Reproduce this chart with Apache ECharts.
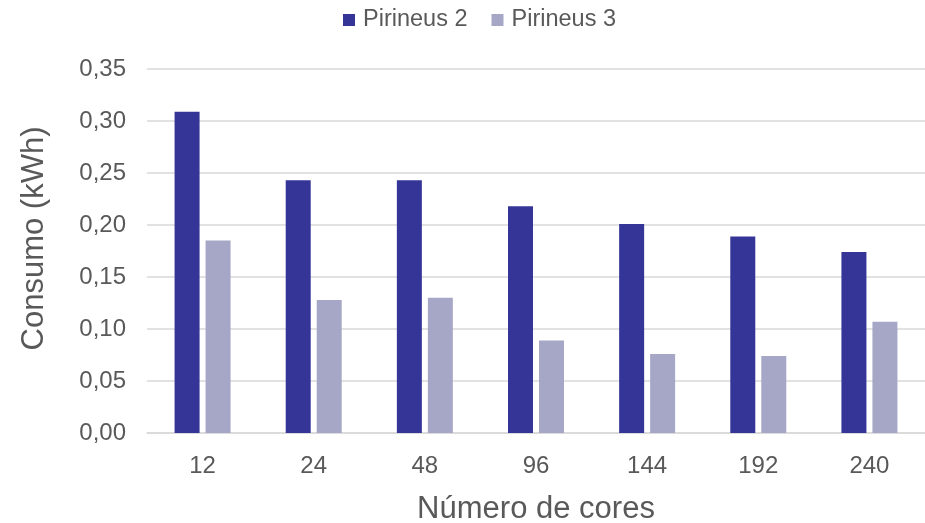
<!DOCTYPE html>
<html>
<head>
<meta charset="utf-8">
<script src="https://cdn.jsdelivr.net/npm/echarts@6/dist/echarts.min.js"></script>
<style>
  html, body { margin: 0; padding: 0; background: #ffffff; }
  #chart { width: 925px; height: 523px; }
</style>
</head>
<body>
<div id="chart"></div>
<script>
// Energy consumption per run, by number of cores
const categories = ['12', '24', '48', '96', '144', '192', '240'];
const pirineus2 = [0.309, 0.243, 0.243, 0.218, 0.201, 0.189, 0.174];
const pirineus3 = [0.185, 0.128, 0.130, 0.089, 0.076, 0.074, 0.107];
const seriesNames = ['Pirineus 2', 'Pirineus 3'];

const FONT = '"Liberation Sans", Arial, sans-serif';
const TEXT = '#595959';
const GRID = '#D9D9D9';

const chart = echarts.init(document.getElementById('chart'), null, { renderer: 'canvas' });

chart.setOption({
  animation: false,
  textStyle: { fontFamily: FONT },
  legend: {
    top: 3,
    left: 338,
    itemWidth: 12,
    itemHeight: 12,
    itemGap: 24,
    icon: 'rect',
    textStyle: { fontFamily: FONT, fontSize: 23.5, color: TEXT, padding: [0, 0, 0, 3] },
    data: seriesNames
  },
  grid: {
    left: 147, right: 0, top: 69, bottom: 90,
    containLabel: false,
    outerBoundsMode: 'none'
  },
  xAxis: {
    type: 'category',
    data: categories,
    name: 'Número de cores',
    nameLocation: 'middle',
    nameGap: 61,
    nameTextStyle: { fontFamily: FONT, fontSize: 31, color: TEXT },
    axisLine: { show: true, lineStyle: { color: GRID, width: 1.5 } },
    axisTick: { show: false },
    axisLabel: { fontFamily: FONT, fontSize: 24, color: TEXT, margin: 21 }
  },
  yAxis: {
    type: 'value',
    min: 0,
    max: 0.35,
    interval: 0.05,
    name: 'Consumo (kWh)',
    nameLocation: 'middle',
    nameGap: 97,
    nameTextStyle: { fontFamily: FONT, fontSize: 31, color: TEXT, padding: [0, 0, 0, 25] },
    axisLine: { show: false },
    axisTick: { show: false },
    splitLine: { lineStyle: { color: GRID, width: 1.5 } },
    axisLabel: {
      fontFamily: FONT, fontSize: 24, color: TEXT, margin: 21,
      formatter: v => v.toFixed(2).replace('.', ',')
    }
  },
  series: [
    {
      name: seriesNames[0],
      type: 'bar',
      data: pirineus2,
      barWidth: 25,
      barGap: '24%',
      itemStyle: { color: '#353598' }
    },
    {
      name: seriesNames[1],
      type: 'bar',
      data: pirineus3,
      barWidth: 25,
      barGap: '24%',
      itemStyle: { color: '#A6A6C6' }
    }
  ]
});
</script>
</body>
</html>
